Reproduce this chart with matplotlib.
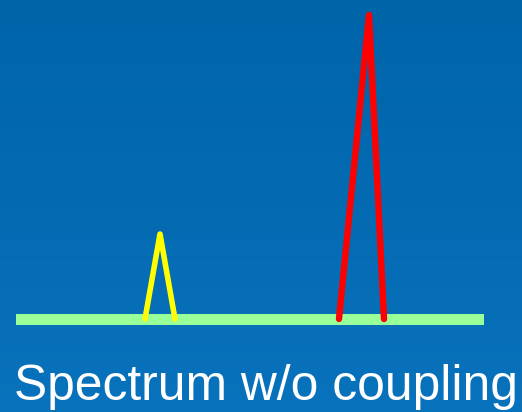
import matplotlib
matplotlib.use("Agg")
import matplotlib.pyplot as plt
import numpy as np
from matplotlib.colors import LinearSegmentedColormap

# Data (in image-like units: x to the right, y = height above baseline)
baseline_x = [16, 484]
peak_names = ["small", "large"]
peak_left = [145, 339]
peak_center = [160, 369]
peak_right = [175, 384]
peak_height = [85, 304]
peak_colors = ["#FFFF00", "#FF0000"]
title_text = "Spectrum w/o coupling"

W, H = 522, 412
base_y = 93  # baseline position in y-units from bottom

fig = plt.figure(figsize=(W / 100, H / 100), dpi=100)
ax = fig.add_axes([0, 0, 1, 1])
ax.set_xlim(0, W)
ax.set_ylim(0, H)
ax.axis("off")

# background gradient
cmap = LinearSegmentedColormap.from_list("bg", ["#0872BC", "#0064A9"])
grad = np.linspace(0, 1, 256).reshape(-1, 1)
ax.imshow(grad, extent=[0, W, 0, H], origin="lower", cmap=cmap, aspect="auto", zorder=0)

# baseline bar
ax.fill_between(baseline_x, base_y - 5.5, base_y + 5.5, color="#99FF99", zorder=2, linewidth=0)

# peaks
lws = [4.0, 4.6]
for l, c, r, h, col, lw in zip(peak_left, peak_center, peak_right, peak_height, peak_colors, lws):
    ax.plot([l, c, r], [base_y, base_y + h, base_y], color=col, lw=lw,
            solid_capstyle="round", solid_joinstyle="round", zorder=3)

ax.text(14, H - 400, title_text, color="white", fontsize=35.8,
        family="Liberation Sans", ha="left", va="baseline", zorder=4)

fig.savefig("out.png", dpi=100)
